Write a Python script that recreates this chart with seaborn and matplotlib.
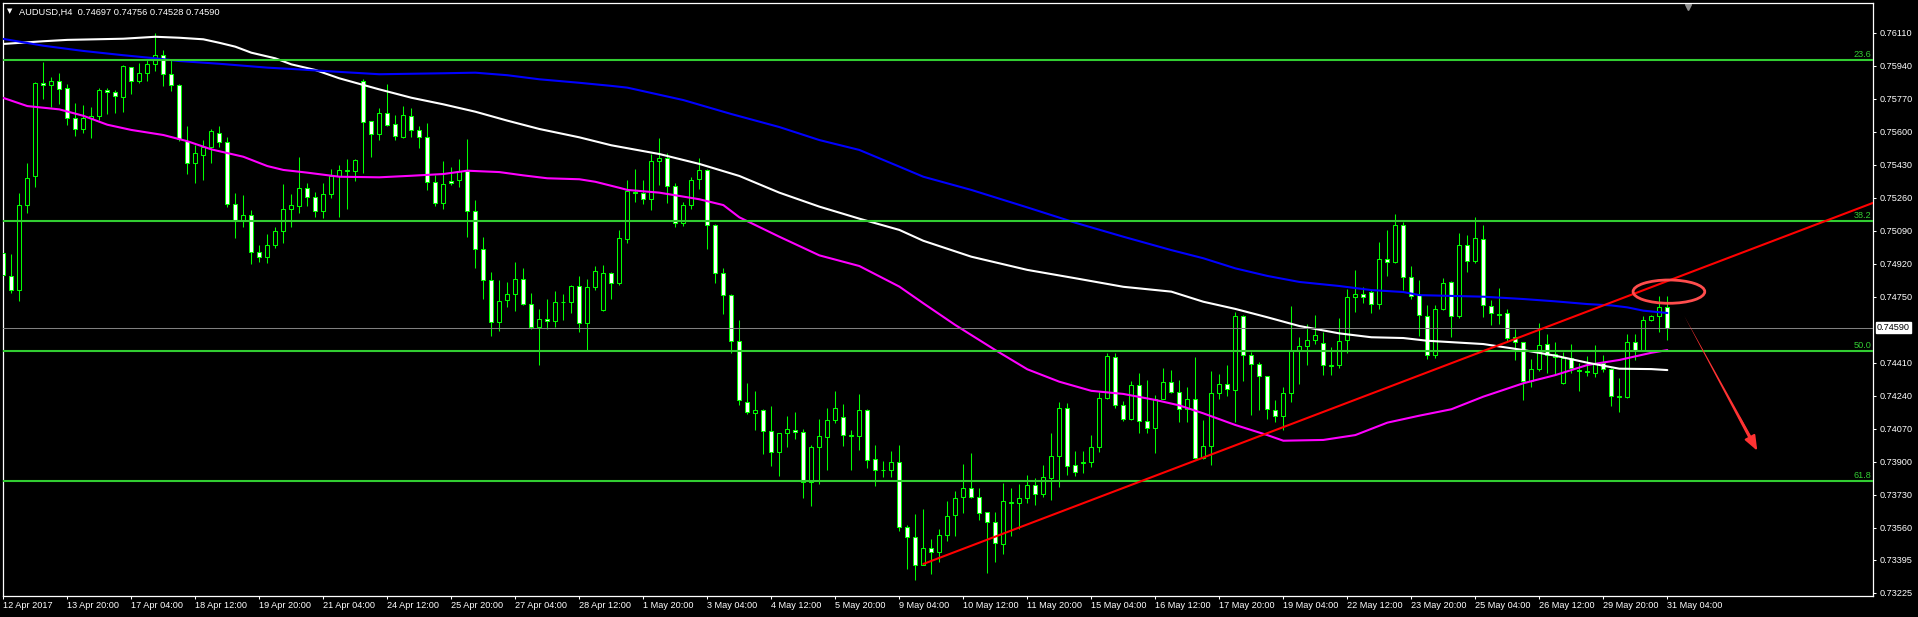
import numpy as np
import pandas as pd
import matplotlib
matplotlib.use("Agg")
import matplotlib.pyplot as plt
import matplotlib.transforms as mtransforms
from matplotlib.patches import Ellipse
import seaborn as sns

## Data
symbol = "AUDUSD,H4"
last_ohlc = [0.74697, 0.74756, 0.74528, 0.74590]

opens = [0.74973, 0.74858, 0.74787, 0.75220, 0.75370, 0.75849, 0.75838, 0.75859, 0.75823, 0.75668,
         0.75612, 0.75668, 0.75679, 0.75813, 0.75802, 0.75777, 0.75931, 0.75862, 0.75900, 0.75947,
         0.75993, 0.75895, 0.75838, 0.75553, 0.75437, 0.75478, 0.75519, 0.75595, 0.75545, 0.75225,
         0.75141, 0.75169, 0.74978, 0.74957, 0.75014, 0.75086, 0.75200, 0.75217, 0.75308, 0.75261,
         0.75193, 0.75277, 0.75371, 0.75397, 0.75395, 0.75863, 0.75653, 0.75586, 0.75694, 0.75638,
         0.75574, 0.75679, 0.75607, 0.75571, 0.75339, 0.75231, 0.75344, 0.75349, 0.75395, 0.75193,
         0.74994, 0.74834, 0.74618, 0.74731, 0.74762, 0.74839, 0.74710, 0.74593, 0.74633, 0.74623,
         0.74721, 0.74724, 0.74803, 0.74612, 0.74801, 0.74679, 0.74870, 0.74818, 0.75045, 0.75291,
         0.75284, 0.75251, 0.75447, 0.75463, 0.75322, 0.75128, 0.75220, 0.75358, 0.75401, 0.75117,
         0.74874, 0.74757, 0.74520, 0.74209, 0.74149, 0.74164, 0.74056, 0.73951, 0.74046, 0.74061,
         0.74051, 0.73793, 0.73975, 0.74025, 0.74113, 0.74128, 0.74030, 0.74030, 0.74164, 0.73912,
         0.73857, 0.73855, 0.73896, 0.73562, 0.73510, 0.73369, 0.73455, 0.73433, 0.73521, 0.73624,
         0.73717, 0.73763, 0.73717, 0.73639, 0.73588, 0.73475, 0.73687, 0.73686, 0.73711, 0.73778,
         0.73732, 0.73815, 0.73928, 0.74175, 0.73882, 0.73894, 0.73897, 0.73974, 0.74227, 0.74438,
         0.74191, 0.74119, 0.74294, 0.74108, 0.74072, 0.74225, 0.74309, 0.74257, 0.74170, 0.74221,
         0.73917, 0.73979, 0.74252, 0.74298, 0.74267, 0.74649, 0.74448, 0.74401, 0.74340, 0.74164,
         0.74134, 0.74252, 0.74477, 0.74494, 0.74525, 0.74513, 0.74395, 0.74396, 0.74525, 0.74747,
         0.74762, 0.74772, 0.74711, 0.74942, 0.74927, 0.75119, 0.74850, 0.74760, 0.74649, 0.74448,
         0.74685, 0.74824, 0.74649, 0.75014, 0.74932, 0.75045, 0.74700, 0.74659, 0.74664, 0.74544,
         0.74515, 0.74314, 0.74376, 0.74504, 0.74441, 0.74303, 0.74436, 0.74370, 0.74365, 0.74358,
         0.74410, 0.74376, 0.74237, 0.74231, 0.74518, 0.74475, 0.74628, 0.74652, 0.74697]

highs = [0.74993, 0.74969, 0.75284, 0.75437, 0.75856, 0.75959, 0.75881, 0.75902, 0.75844, 0.75747,
         0.75737, 0.75725, 0.75823, 0.75823, 0.75816, 0.75943, 0.75935, 0.75954, 0.75969, 0.76106,
         0.76020, 0.75969, 0.75844, 0.75629, 0.75533, 0.75557, 0.75612, 0.75629, 0.75574, 0.75284,
         0.75273, 0.75196, 0.75014, 0.75073, 0.75107, 0.75330, 0.75279, 0.75469, 0.75334, 0.75289,
         0.75335, 0.75407, 0.75426, 0.75459, 0.75461, 0.75869, 0.75653, 0.75723, 0.75845, 0.75686,
         0.75732, 0.75722, 0.75629, 0.75644, 0.75375, 0.75449, 0.75418, 0.75459, 0.75562, 0.75248,
         0.75057, 0.74877, 0.74836, 0.74825, 0.74928, 0.74896, 0.74769, 0.74688, 0.74738, 0.74779,
         0.74764, 0.74810, 0.74856, 0.74841, 0.74908, 0.74913, 0.74877, 0.75093, 0.75351, 0.75406,
         0.75349, 0.75485, 0.75566, 0.75488, 0.75334, 0.75239, 0.75365, 0.75463, 0.75406, 0.75123,
         0.74898, 0.74762, 0.74630, 0.74303, 0.74264, 0.74169, 0.74187, 0.74049, 0.74135, 0.74156,
         0.74068, 0.73986, 0.74120, 0.74175, 0.74264, 0.74195, 0.74063, 0.74247, 0.74173, 0.73986,
         0.73903, 0.73955, 0.73986, 0.73572, 0.73630, 0.73656, 0.73501, 0.73553, 0.73698, 0.73749,
         0.73888, 0.73945, 0.73763, 0.73639, 0.73641, 0.73790, 0.73765, 0.73785, 0.73832, 0.73815,
         0.73883, 0.74048, 0.74206, 0.74201, 0.73954, 0.73954, 0.74036, 0.74258, 0.74460, 0.74460,
         0.74211, 0.74316, 0.74357, 0.74321, 0.74242, 0.74381, 0.74373, 0.74321, 0.74285, 0.74439,
         0.74113, 0.74365, 0.74350, 0.74398, 0.74669, 0.74654, 0.74467, 0.74412, 0.74340, 0.74216,
         0.74283, 0.74700, 0.74542, 0.74607, 0.74654, 0.74570, 0.74491, 0.74638, 0.74790, 0.74887,
         0.74798, 0.74784, 0.75032, 0.75093, 0.75176, 0.75135, 0.74908, 0.74836, 0.74707, 0.74707,
         0.74844, 0.74829, 0.75076, 0.75066, 0.75159, 0.75117, 0.74733, 0.74795, 0.74685, 0.74582,
         0.74515, 0.74427, 0.74613, 0.74556, 0.74515, 0.74467, 0.74506, 0.74410, 0.74444, 0.74501,
         0.74449, 0.74381, 0.74329, 0.74558, 0.74558, 0.74650, 0.74656, 0.74753, 0.74756]

lows = [0.74801, 0.74770, 0.74729, 0.75182, 0.75316, 0.75770, 0.75725, 0.75742, 0.75636, 0.75579,
        0.75595, 0.75569, 0.75660, 0.75692, 0.75698, 0.75703, 0.75796, 0.75850, 0.75861, 0.75914,
        0.75837, 0.75811, 0.75550, 0.75382, 0.75337, 0.75351, 0.75440, 0.75522, 0.75213, 0.75054,
        0.75107, 0.74916, 0.74930, 0.74925, 0.75000, 0.75028, 0.75110, 0.75182, 0.75219, 0.75158,
        0.75155, 0.75260, 0.75162, 0.75201, 0.75347, 0.75389, 0.75471, 0.75559, 0.75631, 0.75559,
        0.75569, 0.75574, 0.75517, 0.75301, 0.75219, 0.75203, 0.75327, 0.75316, 0.75059, 0.74899,
        0.74739, 0.74549, 0.74575, 0.74698, 0.74678, 0.74709, 0.74581, 0.74399, 0.74585, 0.74595,
        0.74631, 0.74667, 0.74569, 0.74475, 0.74784, 0.74678, 0.74739, 0.74812, 0.75028, 0.75238,
        0.75229, 0.75196, 0.75327, 0.75231, 0.75107, 0.75116, 0.75203, 0.75305, 0.74997, 0.74822,
        0.74662, 0.74458, 0.74192, 0.74147, 0.74065, 0.73941, 0.73879, 0.73828, 0.73974, 0.74018,
        0.73714, 0.73673, 0.73783, 0.73859, 0.74101, 0.73982, 0.73859, 0.73962, 0.73869, 0.73776,
        0.73819, 0.73819, 0.73541, 0.73349, 0.73290, 0.73366, 0.73323, 0.73385, 0.73493, 0.73519,
        0.73634, 0.73713, 0.73602, 0.73328, 0.73385, 0.73426, 0.73519, 0.73552, 0.73686, 0.73675,
        0.73720, 0.73705, 0.73772, 0.73830, 0.73825, 0.73840, 0.73871, 0.73952, 0.74223, 0.74179,
        0.74108, 0.74115, 0.74050, 0.74050, 0.73947, 0.74222, 0.74252, 0.74106, 0.74106, 0.73912,
        0.73914, 0.73885, 0.74223, 0.74237, 0.74103, 0.74317, 0.74142, 0.74168, 0.74122, 0.74106,
        0.74061, 0.74209, 0.74302, 0.74400, 0.74504, 0.74345, 0.74348, 0.74381, 0.74462, 0.74673,
        0.74716, 0.74664, 0.74688, 0.74858, 0.74922, 0.74784, 0.74740, 0.74547, 0.74427, 0.74432,
        0.74681, 0.74544, 0.74638, 0.74879, 0.74922, 0.74647, 0.74606, 0.74611, 0.74515, 0.74424,
        0.74218, 0.74283, 0.74365, 0.74355, 0.74346, 0.74300, 0.74355, 0.74266, 0.74341, 0.74338,
        0.74364, 0.74188, 0.74158, 0.74228, 0.74424, 0.74472, 0.74623, 0.74570, 0.74528]

closes = [0.74861, 0.74787, 0.75220, 0.75364, 0.75849, 0.75838, 0.75859, 0.75821, 0.75668, 0.75612,
          0.75668, 0.75679, 0.75813, 0.75802, 0.75785, 0.75936, 0.75862, 0.75900, 0.75947, 0.75993,
          0.75895, 0.75842, 0.75560, 0.75437, 0.75488, 0.75519, 0.75601, 0.75545, 0.75225, 0.75141,
          0.75169, 0.74978, 0.74952, 0.75014, 0.75086, 0.75200, 0.75220, 0.75308, 0.75261, 0.75193,
          0.75277, 0.75371, 0.75401, 0.75401, 0.75454, 0.75648, 0.75586, 0.75694, 0.75632, 0.75576,
          0.75684, 0.75607, 0.75571, 0.75339, 0.75231, 0.75328, 0.75334, 0.75395, 0.75193, 0.74994,
          0.74834, 0.74618, 0.74726, 0.74762, 0.74839, 0.74714, 0.74593, 0.74633, 0.74623, 0.74721,
          0.74724, 0.74803, 0.74612, 0.74801, 0.74880, 0.74870, 0.74818, 0.75050, 0.75292, 0.75284,
          0.75251, 0.75447, 0.75463, 0.75322, 0.75128, 0.75220, 0.75349, 0.75401, 0.75117, 0.74874,
          0.74757, 0.74520, 0.74218, 0.74154, 0.74164, 0.74056, 0.73948, 0.74046, 0.74066, 0.74051,
          0.73793, 0.73975, 0.74030, 0.74113, 0.74175, 0.74036, 0.74036, 0.74164, 0.73907, 0.73855,
          0.73855, 0.73896, 0.73562, 0.73510, 0.73369, 0.73455, 0.73433, 0.73521, 0.73619, 0.73711,
          0.73763, 0.73717, 0.73634, 0.73588, 0.73480, 0.73696, 0.73691, 0.73711, 0.73778, 0.73732,
          0.73820, 0.73928, 0.74175, 0.73876, 0.73845, 0.73897, 0.73974, 0.74227, 0.74443, 0.74191,
          0.74119, 0.74294, 0.74108, 0.74072, 0.74225, 0.74309, 0.74258, 0.74170, 0.74221, 0.73917,
          0.73979, 0.74252, 0.74298, 0.74273, 0.74649, 0.74448, 0.74401, 0.74340, 0.74170, 0.74134,
          0.74252, 0.74477, 0.74494, 0.74525, 0.74551, 0.74396, 0.74398, 0.74520, 0.74747, 0.74762,
          0.74747, 0.74711, 0.74942, 0.74927, 0.75119, 0.74850, 0.74755, 0.74654, 0.74448, 0.74685,
          0.74819, 0.74649, 0.75014, 0.74932, 0.75051, 0.74705, 0.74664, 0.74656, 0.74535, 0.74515,
          0.74314, 0.74376, 0.74499, 0.74448, 0.74453, 0.74432, 0.74381, 0.74367, 0.74362, 0.74410,
          0.74376, 0.74237, 0.74233, 0.74518, 0.74475, 0.74628, 0.74649, 0.74695, 0.74590]

# H4 bars, weekdays only
times = pd.date_range("2017-04-12 12:00", "2017-05-31 04:00", freq="4h")
times = times[times.dayofweek < 5]

# moving averages, sampled along the chart (bar number, price)
ma_white_bar = [0, 5, 8, 15, 19, 22, 25, 27, 29, 31, 34, 36, 39, 42, 47, 51, 55, 59, 63, 67,
                72, 76, 82, 87, 92, 97, 102, 107, 112, 115, 121, 128, 134, 140, 146, 150, 154, 158, 162, 167,
                171, 175, 178, 185, 190, 194, 198, 202, 206, 208]
ma_white = [0.76052, 0.76066, 0.76073, 0.76079, 0.76089, 0.76084, 0.76076, 0.76058, 0.76038, 0.76007,
            0.75978, 0.75947, 0.75918, 0.75875, 0.75818, 0.75775, 0.75741, 0.75703, 0.75657, 0.75614,
            0.75571, 0.75530, 0.75485, 0.75434, 0.75372, 0.75286, 0.75214, 0.75152, 0.75094, 0.75038,
            0.74956, 0.74888, 0.74845, 0.74801, 0.74776, 0.74724, 0.74687, 0.74644, 0.74599, 0.74561,
            0.74541, 0.74537, 0.74523, 0.74506, 0.74475, 0.74446, 0.74410, 0.74379, 0.74377, 0.74372]

ma_blue_bar = [0, 5, 10, 15, 19, 22, 27, 33, 37, 40, 47, 55, 59, 63, 67, 72, 76, 78, 85, 91,
               97, 102, 107, 112, 115, 121, 128, 134, 140, 146, 150, 154, 158, 162, 167, 171, 175, 177, 185, 190,
               194, 198, 201, 203, 205, 208]
ma_blue = [0.76078, 0.76043, 0.76016, 0.75994, 0.75978, 0.75964, 0.75950, 0.75930, 0.75921, 0.75913,
           0.75896, 0.75901, 0.75904, 0.75891, 0.75870, 0.75852, 0.75836, 0.75827, 0.75763, 0.75691,
           0.75624, 0.75557, 0.75506, 0.75420, 0.75368, 0.75300, 0.75210, 0.75131, 0.75059, 0.74990,
           0.74948, 0.74896, 0.74857, 0.74826, 0.74805, 0.74784, 0.74774, 0.74758, 0.74750, 0.74738,
           0.74726, 0.74712, 0.74705, 0.74695, 0.74678, 0.74666]

ma_magenta_bar = [0, 3, 7, 10, 13, 16, 20, 23, 26, 30, 33, 35, 38, 42, 47, 51, 55, 58, 62, 65,
                  68, 72, 74, 77, 78, 82, 87, 90, 92, 97, 102, 107, 112, 115, 119, 124, 128, 132, 136, 140,
                  144, 147, 150, 154, 158, 160, 165, 169, 173, 177, 181, 185, 190, 194, 198, 202, 206, 208]
ma_magenta = [0.75774, 0.75732, 0.75715, 0.75682, 0.75636, 0.75609, 0.75583, 0.75551, 0.75509, 0.75471,
              0.75423, 0.75403, 0.75389, 0.75368, 0.75365, 0.75373, 0.75382, 0.75399, 0.75392, 0.75375,
              0.75360, 0.75355, 0.75342, 0.75311, 0.75300, 0.75286, 0.75252, 0.75222, 0.75159, 0.75059,
              0.74963, 0.74908, 0.74802, 0.74716, 0.74604, 0.74475, 0.74376, 0.74312, 0.74265, 0.74249,
              0.74218, 0.74190, 0.74149, 0.74089, 0.74037, 0.74008, 0.74012, 0.74037, 0.74101, 0.74137,
              0.74170, 0.74235, 0.74304, 0.74346, 0.74398, 0.74424, 0.74461, 0.74475]

fib_levels = [0.75969, 0.75142, 0.74472, 0.73802]
fib_names = ["23.6", "38.2", "50.0", "61.8"]

trend_bar = [115, 200]
trend_price = [0.73373, 0.74705]

price_ticks = [0.76110, 0.75940, 0.75770, 0.75600, 0.75430, 0.75260, 0.75090, 0.74920, 0.74750,
               0.74410, 0.74240, 0.74070, 0.73900, 0.73730, 0.73560, 0.73395, 0.73225]

## Figure
sns.set_theme(style="dark", rc={"axes.facecolor": "black", "figure.facecolor": "black"})
plt.rcParams["font.family"] = ["Liberation Sans", "DejaVu Sans"]

W, H = 1918, 617
fig = plt.figure(figsize=(W / 100, H / 100), dpi=100, facecolor="black")
ax = fig.add_axes([3 / W, 21 / H, 1870 / W, 593 / H], facecolor="black")
ax.set_xlim(-0.04, 233.71)
ax.set_ylim(0.73208, 0.76263)
ax.grid(False)

df = pd.DataFrame({"time": times, "open": opens, "high": highs, "low": lows, "close": closes})
df["bar"] = np.arange(len(df))
up = df["close"] >= df["open"]

lime = "#00ff00"
ax.vlines(df["bar"], df["low"], df["high"], color=lime, lw=0.75, zorder=2)
body = (df["close"] - df["open"]).abs().clip(lower=0.000005)
ax.bar(df["bar"], body, bottom=df[["open", "close"]].min(axis=1), width=0.5,
       color=np.where(up, "black", "white"), edgecolor=lime, linewidth=0.75, zorder=3)

# moving averages
for xs, ys, col in [(ma_magenta_bar, ma_magenta, "#ff00ff"),
                    (ma_white_bar, ma_white, "#ffffff"),
                    (ma_blue_bar, ma_blue, "#0000ff")]:
    sns.lineplot(x=xs, y=ys, ax=ax, color=col, linewidth=1.5, estimator=None, sort=False, zorder=4)

# fibonacci levels
trans = mtransforms.blended_transform_factory(ax.transAxes, ax.transData)
for lvl, name in zip(fib_levels, fib_names):
    ax.axhline(lvl, color="#32cd32", lw=1.5, zorder=4)
    ax.text(0.999, lvl + 0.00004, name, transform=trans, ha="right", va="bottom",
            color="#32cd32", fontsize=6.6, zorder=5)

# current price line
ax.axhline(last_ohlc[3], color="#808080", lw=0.75, zorder=4)

# trend line (ray to the right edge)
slope = (trend_price[1] - trend_price[0]) / (trend_bar[1] - trend_bar[0])
x_end = ax.get_xlim()[1]
ax.plot([trend_bar[0], x_end], [trend_price[0], trend_price[0] + slope * (x_end - trend_bar[0])],
        color="#ff0000", lw=1.5, zorder=5)

# ellipse + arrow
ax.add_patch(Ellipse((208.2, 0.74776), width=8.96, height=0.0012, fill=False,
                     edgecolor="#ff4d4d", lw=2, zorder=6))
ax.annotate("", xy=(210.1, 0.74652), xytext=(218.6, 0.74005),
            arrowprops=dict(arrowstyle="wedge,tail_width=0.25,shrink_factor=0.5", color="#ff3333",
                            lw=0, shrinkA=0, shrinkB=0, mutation_scale=10), zorder=6)
ax.annotate("", xy=(219.25, 0.73956), xytext=(217.0, 0.74128),
            arrowprops=dict(arrowstyle="-|>,head_length=0.9,head_width=0.35", color="#ff3333",
                            lw=1.5, shrinkA=0, shrinkB=0, mutation_scale=10), zorder=6)

# axes styling
for sp in ax.spines.values():
    sp.set_color("white")
    sp.set_linewidth(0.9)
    sp.set_visible(True)

ax.yaxis.tick_right()
ax.set_yticks(price_ticks)
ax.set_yticklabels([f"{v:.5f}" for v in price_ticks])
ax.tick_params(axis="y", colors="white", labelsize=6.6, length=2.5, width=0.75, pad=2, direction="out",
               right=True, left=False)

tick_bars = list(range(0, len(df), 8))
tick_labels = ["12 Apr 2017"] + [f"{t.day} {t:%b %H:%M}" for t in df["time"].iloc[tick_bars[1:]]]
ax.set_xticks(tick_bars)
ax.set_xticklabels(tick_labels, ha="left")
ax.tick_params(axis="x", colors="white", labelsize=6.6, length=2.5, width=0.75, pad=1, direction="out",
               bottom=True)
ax.set_xlabel("")
ax.set_ylabel("")

# current price tag on the price scale
ax.annotate(f"{last_ohlc[3]:.5f}", xy=(1, last_ohlc[3]), xycoords=trans, xytext=(4, 0),
            textcoords="offset pixels", ha="left", va="center", color="black", fontsize=6.6,
            bbox=dict(boxstyle="square,pad=0.12", fc="white", ec="white"), annotation_clip=False)

# chart shift marker
ax.plot([0.901], [0.994], marker="v", color="#909090", ms=5, transform=ax.transAxes, clip_on=False)

# header
fig.text(7 / W, 1 - 11.5 / H, "\u25bc", family="DejaVu Sans", fontsize=5, color="white", va="center")
fig.text(19 / W, 1 - 12 / H, f"{symbol}  " + " ".join(f"{v:.5f}" for v in last_ohlc),
         color="white", fontsize=6.7, va="center", ha="left")

fig.savefig("out.png", dpi=100, facecolor="black")
